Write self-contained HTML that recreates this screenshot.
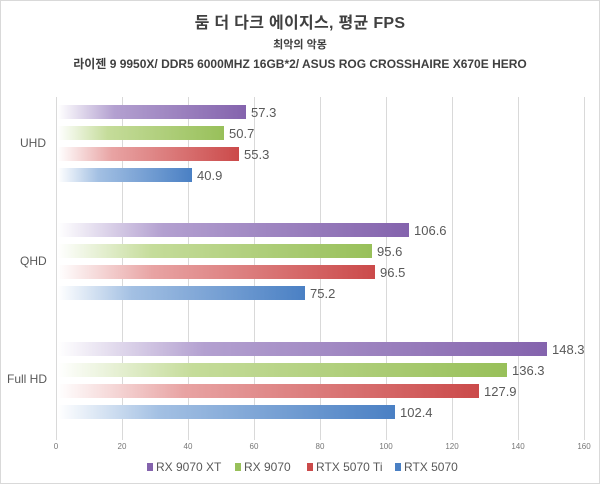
<!DOCTYPE html>
<html><head><meta charset="utf-8"><style>
body{margin:0;background:#fff;}
.c{position:relative;width:598px;height:482px;border:1px solid #d9d9d9;font-family:"Liberation Sans","Noto Sans CJK KR",sans-serif;overflow:hidden;}
.t{position:absolute;left:0;width:598px;text-align:center;color:#404040;}
.g{position:absolute;top:96px;height:343px;width:1px;background:#d9d9d9;}
.b{position:absolute;left:57px;height:14px;}
.v{position:absolute;font-size:13px;color:#595959;}
.tk{position:absolute;top:441px;font-size:8px;color:#777;width:30px;margin-left:-15px;text-align:center;}
.cat{position:absolute;font-size:12px;color:#595959;}
.lg{position:absolute;top:459px;font-size:12px;color:#595959;}
.lg i{display:inline-block;width:6px;height:8px;margin-right:3px;}
</style></head><body><div class="c">
<div class="t" style="top:8px;font-size:16px;font-weight:bold;letter-spacing:0.3px;">둠 더 다크 에이지스, 평균 FPS</div>
<div class="t" style="top:35px;font-size:11px;font-weight:bold;">최악의 악몽</div>
<div class="t" style="top:54px;font-size:12px;font-weight:bold;">라이젠 9 9950X/ DDR5 6000MHZ 16GB*2/ ASUS ROG CROSSHAIRE X670E HERO</div>
<div class="g" style="left:55px"></div><div class="g" style="left:121px"></div><div class="g" style="left:187px"></div><div class="g" style="left:253px"></div><div class="g" style="left:319px"></div><div class="g" style="left:385px"></div><div class="g" style="left:451px"></div><div class="g" style="left:517px"></div><div class="g" style="left:583px"></div>
<div class="tk" style="left:55px">0</div><div class="tk" style="left:121px">20</div><div class="tk" style="left:187px">40</div><div class="tk" style="left:253px">60</div><div class="tk" style="left:319px">80</div><div class="tk" style="left:385px">100</div><div class="tk" style="left:451px">120</div><div class="tk" style="left:517px">140</div><div class="tk" style="left:583px">160</div>
<div class="cat" style="left:19px;top:135px">UHD</div>
<div class="cat" style="left:19px;top:253px">QHD</div>
<div class="cat" style="left:6px;top:371px">Full HD</div>
<div class="b" style="top:104px;width:188px;background:linear-gradient(90deg,#fff,#b3a0d0 30%,#8463ad)"></div><div class="v" style="left:250px;top:104px">57.3</div>
<div class="b" style="top:125px;width:166px;background:linear-gradient(90deg,#fff,#c5dc9a 30%,#98c05a)"></div><div class="v" style="left:228px;top:125px">50.7</div>
<div class="b" style="top:146px;width:181px;background:linear-gradient(90deg,#fff,#e8a3a3 30%,#cb4a4a)"></div><div class="v" style="left:243px;top:146px">55.3</div>
<div class="b" style="top:167px;width:134px;background:linear-gradient(90deg,#fff,#a3c0e3 30%,#4a80c4)"></div><div class="v" style="left:196px;top:167px">40.9</div>
<div class="b" style="top:222px;width:351px;background:linear-gradient(90deg,#fff,#b3a0d0 30%,#8463ad)"></div><div class="v" style="left:413px;top:222px">106.6</div>
<div class="b" style="top:243px;width:314px;background:linear-gradient(90deg,#fff,#c5dc9a 30%,#98c05a)"></div><div class="v" style="left:376px;top:243px">95.6</div>
<div class="b" style="top:264px;width:317px;background:linear-gradient(90deg,#fff,#e8a3a3 30%,#cb4a4a)"></div><div class="v" style="left:379px;top:264px">96.5</div>
<div class="b" style="top:285px;width:247px;background:linear-gradient(90deg,#fff,#a3c0e3 30%,#4a80c4)"></div><div class="v" style="left:309px;top:285px">75.2</div>
<div class="b" style="top:341px;width:489px;background:linear-gradient(90deg,#fff,#b3a0d0 30%,#8463ad)"></div><div class="v" style="left:551px;top:341px">148.3</div>
<div class="b" style="top:362px;width:449px;background:linear-gradient(90deg,#fff,#c5dc9a 30%,#98c05a)"></div><div class="v" style="left:511px;top:362px">136.3</div>
<div class="b" style="top:383px;width:421px;background:linear-gradient(90deg,#fff,#e8a3a3 30%,#cb4a4a)"></div><div class="v" style="left:483px;top:383px">127.9</div>
<div class="b" style="top:404px;width:337px;background:linear-gradient(90deg,#fff,#a3c0e3 30%,#4a80c4)"></div><div class="v" style="left:399px;top:404px">102.4</div>
<div class="lg" style="left:146px"><i style="background:#8463ad"></i>RX 9070 XT</div>
<div class="lg" style="left:234px"><i style="background:#98c05a"></i>RX 9070</div>
<div class="lg" style="left:306px"><i style="background:#cb4a4a"></i>RTX 5070 Ti</div>
<div class="lg" style="left:394px"><i style="background:#4a80c4"></i>RTX 5070</div>
</div></body></html>
